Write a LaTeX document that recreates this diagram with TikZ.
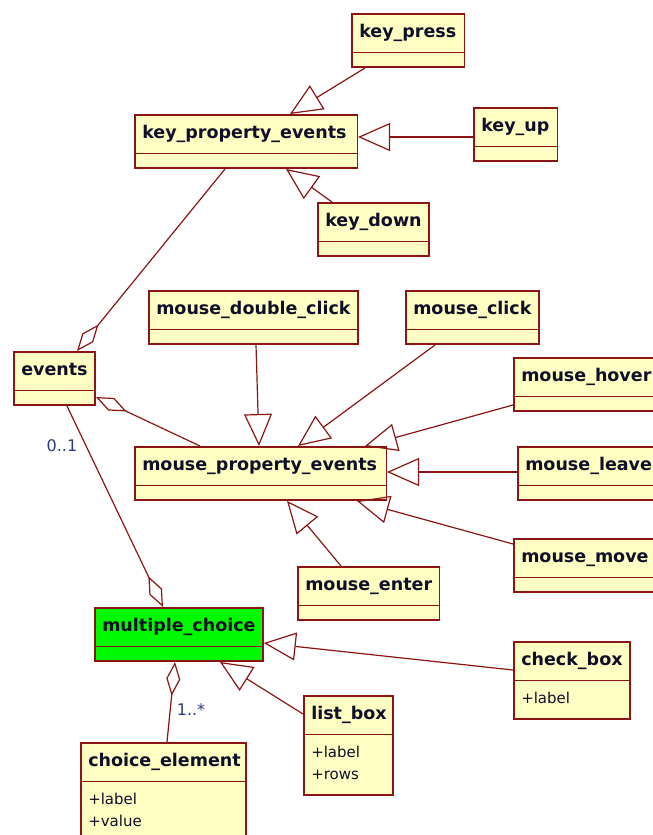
\documentclass[tikz,border=0pt]{standalone}
\usepackage{fontspec}
\setmainfont{DejaVu Sans}
\usetikzlibrary{arrows.meta,shapes.multipart}
\definecolor{umlred}{RGB}{140,20,20}
\definecolor{umlfill}{RGB}{255,255,196}
\definecolor{umlgreen}{RGB}{0,250,0}
\definecolor{umlink}{RGB}{15,15,40}
\definecolor{umlblue}{RGB}{45,60,120}
\newcommand{\clsstrut}{\rule[-10.1pt]{0pt}{29pt}}
\newcommand{\topstrut}{\rule{0pt}{18.9pt}}
\newcommand{\botstrut}{\rule[-10.1pt]{0pt}{10.1pt}}
\begin{document}
\begin{tikzpicture}[x=1pt, y=-1pt,
  cls/.style={rectangle split, rectangle split parts=2, draw=umlred, fill=umlfill, line width=1.5pt,
    rectangle split part align=left,
    anchor=north west, inner xsep=7.5pt, inner ysep=4pt, text=umlink,
    font=\fontsize{17.5}{22}\selectfont\bfseries, execute at begin node=\clsstrut},
  attrcls/.style={cls, align=left},
  gen/.style={draw=umlred, line width=1.2pt, -{Triangle[open, length=32pt, width=28pt]}},
  agg/.style={draw=umlred, line width=1.2pt, -{Diamond[open, length=34pt, width=14pt]}},
  mult/.style={text=umlblue, font=\fontsize{16}{18}\selectfont}]
  \path[use as bounding box] (0,0) rectangle (653,835);
  \clip (0,0) rectangle (653,835);
  % key events
  \node[cls, minimum width=112.5pt] (keypress) at (351,13) {key\_press};
  \node[cls, minimum width=222.5pt] (keyprop) at (134,114) {key\_property\_events};
  \node[cls, minimum width=83.5pt] (keyup) at (473,107) {key\_up};
  \node[cls, minimum width=110.5pt] (keydown) at (317,202) {key\_down};
  % mouse events
  \node[cls, minimum width=207.5pt] (mousedbl) at (148,290) {mouse\_double\_click};
  \node[cls, minimum width=131.5pt] (mouseclick) at (405,290) {mouse\_click};
  \node[cls, minimum width=77.5pt] (events) at (13,351) {events};
  \node[cls, minimum width=160pt] (mousehover) at (513,357) {mouse\_hover};
  \node[cls, minimum width=251.5pt] (mouseprop) at (134,446) {mouse\_property\_events};
  \node[cls, minimum width=160pt] (mouseleave) at (517,446) {mouse\_leave};
  \node[cls, minimum width=160pt] (mousemove) at (513,538) {mouse\_move};
  \node[cls, minimum width=140.5pt] (mouseenter) at (297,566) {mouse\_enter};
  % choice widgets
  \node[cls, fill=umlgreen, minimum width=162.5pt] (multichoice) at (94,607) {multiple\_choice};
  \node[attrcls, text width=101pt] (checkbox) at (513,641)
    {check\_box\nodepart{two}\mdseries\fontsize{15}{22}\selectfont\clsstrut+label};
  \node[attrcls, text width=74pt] (listbox) at (303,695)
    {list\_box\nodepart{two}\mdseries\fontsize{15}{22}\selectfont\topstrut+label\\+rows\botstrut};
  \node[attrcls, text width=150pt] (choiceelem) at (80,742)
    {choice\_element\nodepart{two}\mdseries\fontsize{15}{22}\selectfont\topstrut+label\\+value\botstrut};
  % generalizations
  \draw[gen] ([xshift=14pt]keypress.south west) -- ([xshift=156pt]keyprop.north west);
  \draw[gen] ([yshift=-30pt]keyup.north west) -- ([yshift=-23pt]keyprop.north east);
  \draw[gen] ([xshift=15pt]keydown.north west) -- ([xshift=152pt]keyprop.south west);
  \draw[gen] ([xshift=108pt]mousedbl.south west) -- ([xshift=125pt]mouseprop.north west);
  \draw[gen] ([xshift=30pt]mouseclick.south west) -- ([xshift=164pt]mouseprop.north west);
  \draw[gen] ([yshift=-48pt]mousehover.north west) -- ([xshift=231pt]mouseprop.north west);
  \draw[gen] ([yshift=-26pt]mouseleave.north west) -- ([yshift=-26pt]mouseprop.north east);
  \draw[gen] ([yshift=-6pt]mousemove.north west) -- ([xshift=223pt]mouseprop.south west);
  \draw[gen] ([xshift=44pt]mouseenter.north west) -- ([xshift=153pt]mouseprop.south west);
  \draw[gen] ([yshift=-29pt]checkbox.north west) -- ([yshift=-36pt]multichoice.north east);
  \draw[gen] ([yshift=-19pt]listbox.north west) -- ([xshift=126pt]multichoice.south west);
  % aggregations
  \draw[agg] ([xshift=91pt]keyprop.south west) -- ([xshift=64pt]events.north west);
  \draw[agg] ([xshift=66pt]mouseprop.north west) -- ([yshift=-46pt]events.north east);
  \draw[agg] ([xshift=54pt]events.south west) -- ([xshift=69pt]multichoice.north west);
  \draw[agg] ([xshift=87pt]choiceelem.north west) -- ([xshift=81pt]multichoice.south west);
  \node[mult] (evmult) at (62,446) {0..1};
  \node[mult] (cemult) at (191,710) {1..*};
\end{tikzpicture}
\end{document}
